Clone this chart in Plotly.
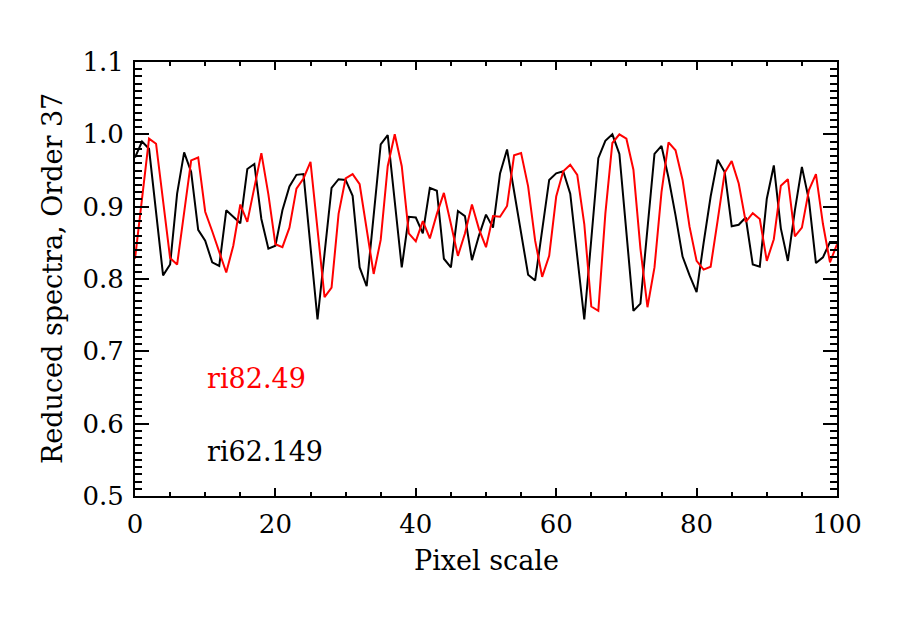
import plotly.graph_objects as go

pixel = list(range(0, 101))

ri62_149 = [
    0.968, 0.990, 0.980, 0.893, 0.805, 0.820, 0.918, 0.975, 0.948, 0.868,
    0.853, 0.823, 0.818, 0.895, 0.886, 0.877, 0.952, 0.959, 0.883, 0.842,
    0.846, 0.895, 0.928, 0.944, 0.945, 0.845, 0.744, 0.835, 0.926, 0.938,
    0.937, 0.915, 0.816, 0.790, 0.890, 0.986, 0.999, 0.908, 0.816, 0.886,
    0.885, 0.863, 0.926, 0.922, 0.828, 0.816, 0.894, 0.887, 0.826, 0.860,
    0.889, 0.871, 0.946, 0.979, 0.922, 0.864, 0.806, 0.798, 0.870, 0.937,
    0.946, 0.949, 0.918, 0.830, 0.744, 0.855, 0.967, 0.991, 1.000, 0.973,
    0.865, 0.756, 0.766, 0.870, 0.973, 0.984, 0.940, 0.888, 0.831, 0.805,
    0.782, 0.850, 0.914, 0.965, 0.948, 0.873, 0.875, 0.885, 0.820, 0.817,
    0.911, 0.957, 0.870, 0.825, 0.895, 0.955, 0.909, 0.822, 0.830, 0.851,
    0.851,
]

ri82_49 = [
    0.828, 0.912, 0.994, 0.987, 0.908, 0.829, 0.820, 0.892, 0.964, 0.968,
    0.893, 0.866, 0.838, 0.809, 0.846, 0.903, 0.879, 0.925, 0.974, 0.917,
    0.848, 0.844, 0.871, 0.925, 0.939, 0.962, 0.870, 0.775, 0.788, 0.890,
    0.939, 0.945, 0.931, 0.870, 0.807, 0.854, 0.956, 1.000, 0.956, 0.863,
    0.852, 0.880, 0.856, 0.890, 0.919, 0.876, 0.832, 0.863, 0.903, 0.869,
    0.844, 0.887, 0.886, 0.901, 0.971, 0.974, 0.928, 0.853, 0.803, 0.832,
    0.914, 0.949, 0.958, 0.944, 0.876, 0.762, 0.756, 0.890, 0.988, 1.000,
    0.994, 0.951, 0.842, 0.761, 0.816, 0.920, 0.989, 0.978, 0.937, 0.872,
    0.825, 0.813, 0.817, 0.881, 0.947, 0.963, 0.932, 0.879, 0.891, 0.883,
    0.825, 0.855, 0.929, 0.938, 0.859, 0.871, 0.923, 0.945, 0.876, 0.823,
    0.848,
]

labels = ["ri82.49", "ri62.149"]
label_colors = ["#ff0000", "#000000"]
label_x = [10, 10]
label_y = [0.663, 0.562]

x_title = "Pixel scale"
y_title = "Reduced spectra, Order 37"

FONT = "DejaVu Serif"

# page body has an 8px margin; figure sized to fit the 900x631 window
W, H = 892, 623
L, T = 127, 54
PW = 837.5 - 8 - L
PH = 496 - 8 - T

fig = go.Figure()
fig.add_trace(go.Scatter(x=pixel, y=ri62_149, mode="lines",
                         line=dict(color="#000000", width=2), showlegend=False))
fig.add_trace(go.Scatter(x=pixel, y=ri82_49, mode="lines",
                         line=dict(color="#ff0000", width=2), showlegend=False))

for t, c, xx, yy in zip(labels, label_colors, label_x, label_y):
    fig.add_annotation(x=xx, y=yy, xref="x", yref="y", text=t, showarrow=False,
                       xanchor="left", yanchor="middle",
                       font=dict(family=FONT, size=27, color=c))

fig.add_annotation(x=(52 - 135) / PW, y=0.5, xref="paper", yref="paper",
                   text=y_title, textangle=-90, showarrow=False,
                   xanchor="center", yanchor="middle",
                   font=dict(family=FONT, size=27, color="black"))
fig.add_annotation(x=0.5, y=-(560 - 496) / PH, xref="paper", yref="paper",
                   text=x_title, showarrow=False,
                   xanchor="center", yanchor="middle",
                   font=dict(family=FONT, size=27, color="black"))

fig.update_xaxes(range=[0, 100], dtick=20, tick0=0,
                 ticks="inside", ticklen=8, tickwidth=2, tickcolor="black",
                 minor=dict(dtick=5, ticks="inside", ticklen=4, tickwidth=1.5,
                            tickcolor="black", showgrid=False),
                 showline=True, linewidth=2, linecolor="black", mirror="allticks",
                 showgrid=False, zeroline=False, ticklabelstandoff=4,
                 tickfont=dict(family=FONT, size=26, color="black"))
fig.update_yaxes(range=[0.5, 1.1], dtick=0.1, tick0=0.5, tickformat=".1f",
                 ticks="inside", ticklen=14, tickwidth=2, tickcolor="black",
                 minor=dict(dtick=0.01, ticks="inside", ticklen=7, tickwidth=1.5,
                            tickcolor="black", showgrid=False),
                 showline=True, linewidth=2, linecolor="black", mirror="allticks",
                 showgrid=False, zeroline=False, ticklabelstandoff=4,
                 tickfont=dict(family=FONT, size=26, color="black"))

fig.update_layout(width=W, height=H,
                  margin=dict(l=L, r=W - L - PW, t=T, b=H - T - PH),
                  plot_bgcolor="white", paper_bgcolor="white")

fig.write_html("out.html")
